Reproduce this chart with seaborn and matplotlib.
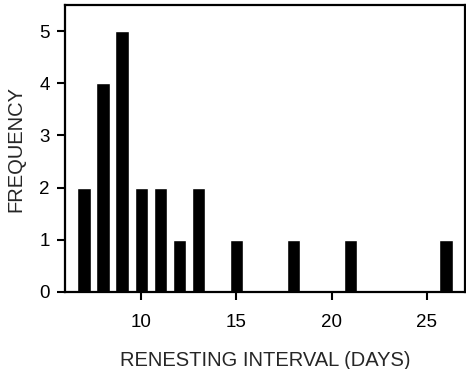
import matplotlib
matplotlib.use('Agg')
import matplotlib.pyplot as plt
import pandas as pd
import seaborn as sns

# renesting interval (days) and how many nests had it
interval_days = [7, 8, 9, 10, 11, 12, 13, 15, 18, 21, 26]
frequency = [2, 4, 5, 2, 2, 1, 2, 1, 1, 1, 1]
x_ticks = [10, 15, 20, 25]
y_ticks = [0, 1, 2, 3, 4, 5]

df = pd.DataFrame({'Interval': interval_days, 'Frequency': frequency})

sns.set_style('ticks')
plt.rcParams['font.family'] = ['Liberation Sans', 'DejaVu Sans']

fig = plt.figure(figsize=(4.66, 3.69), dpi=100)
ax = fig.add_axes([0.1395, 0.2087, 0.8585, 0.7777])

sns.barplot(x='Interval', y='Frequency', data=df, native_scale=True,
            width=0.7, color='black', saturation=1, ax=ax)

ax.set_xlim(6, 27)
ax.set_ylim(0, 5.5)
ax.set_xticks(x_ticks)
ax.set_yticks(y_ticks)
ax.tick_params(direction='out', length=6, width=1.5, labelsize=13.5, colors='black')
ax.tick_params(axis='x', pad=10)
ax.tick_params(axis='y', pad=5)
for s in ax.spines.values():
    s.set_linewidth(1.6)
    s.set_color('black')

ax.set_xlabel('RENESTING INTERVAL (DAYS)', fontsize=14.5, labelpad=14)
ax.set_ylabel('FREQUENCY', fontsize=14.5, labelpad=10)

fig.savefig('out.png', dpi=100)
plt.close()
